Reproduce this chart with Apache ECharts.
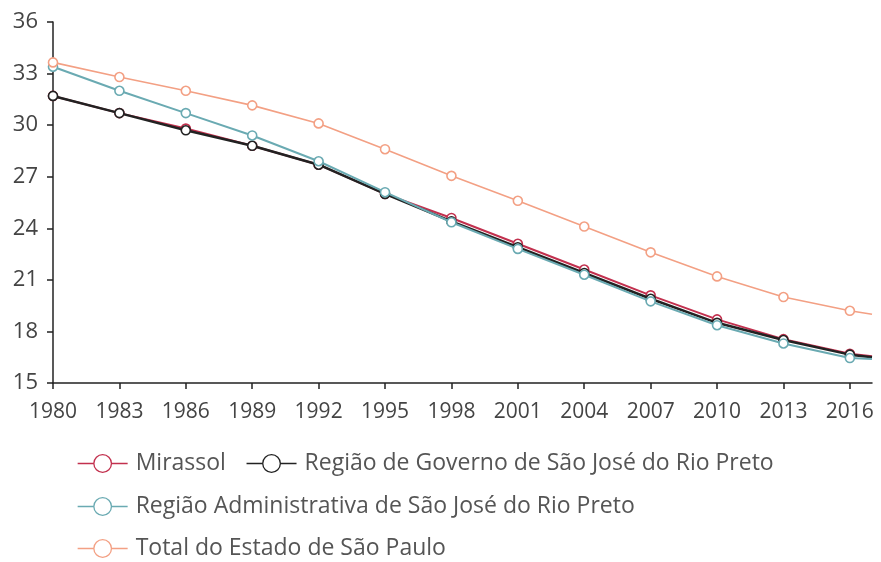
<!DOCTYPE html>
<html>
<head>
<meta charset="utf-8">
<script src="https://cdn.jsdelivr.net/npm/echarts@6/dist/echarts.min.js"></script>
<style>html,body{margin:0;padding:0;background:#fff}#c{width:881px;height:562px}</style>
</head>
<body>
<div id="c"></div>
<script>
const years = [1980, 1983, 1986, 1989, 1992, 1995, 1998, 2001, 2004, 2007, 2010, 2013, 2016, 2017];
const xTickLabels = [1980, 1983, 1986, 1989, 1992, 1995, 1998, 2001, 2004, 2007, 2010, 2013, 2016];
const yTickLabels = [15, 18, 21, 24, 27, 30, 33, 36];
const seriesNames = ['Mirassol', 'Região de Governo de São José do Rio Preto', 'Região Administrativa de São José do Rio Preto', 'Total do Estado de São Paulo'];
const mirassol = [31.7, 30.7, 29.8, 28.8, 27.7, 26.0, 24.6, 23.1, 21.6, 20.1, 18.7, 17.55, 16.7, 16.55];
const regiaoGoverno = [31.7, 30.7, 29.7, 28.8, 27.7, 26.0, 24.4, 22.9, 21.4, 19.9, 18.5, 17.5, 16.65, 16.5];
const regiaoAdministrativa = [33.4, 32.0, 30.7, 29.4, 27.9, 26.1, 24.35, 22.8, 21.3, 19.75, 18.36, 17.3, 16.45, 16.4];
const totalEstado = [33.65, 32.8, 32.0, 31.15, 30.1, 28.6, 27.05, 25.6, 24.1, 22.6, 21.2, 20.0, 19.2, 19.0];
const colors = ['#c2304e', '#222222', '#6aaab2', '#f3a084'];
const widths = [2, 2.5, 2, 1.6];
const allData = [mirassol, regiaoGoverno, regiaoAdministrativa, totalEstado];

const chart = echarts.init(document.getElementById('c'));
const FONT = '"Open Sans", sans-serif';
const series = allData.map((vals, i) => ({
  name: seriesNames[i],
  type: 'line',
  data: vals.map((v, j) => ({
    value: [years[j], v],
    symbol: years[j] === 2017 ? 'none' : 'circle'
  })),
  symbol: 'circle',
  symbolSize: 9,
  showAllSymbol: true,
  color: colors[i],
  lineStyle: { color: colors[i], width: widths[i] },
  itemStyle: { color: '#fff', borderColor: colors[i], borderWidth: 1.6 },
  emphasis: { disabled: true },
  z: 2 + i
}));
const legendBase = {
  left: 72, orient: 'horizontal', itemWidth: 50, itemHeight: 22, itemGap: 20,
  textStyle: { fontFamily: FONT, fontSize: 23, color: '#555', padding: [0, 0, 0, 3] },
  itemStyle: { color: '#fff', borderWidth: 1.3 },
  lineStyle: { width: 1.3 }
};
const option = {
  animation: false,
  backgroundColor: '#fff',
  grid: { left: 53, right: 9, top: 22, bottom: 179, containLabel: false },
  xAxis: {
    type: 'value', min: 1980, max: 2017, interval: 3,
    splitLine: { show: false },
    axisLine: { lineStyle: { color: '#222', width: 1.5 } },
    axisTick: { show: true, length: 6, lineStyle: { color: '#222', width: 1.5 }, customValues: xTickLabels },
    axisLabel: { customValues: xTickLabels, fontFamily: FONT, fontSize: 21, color: '#444', margin: 19, formatter: v => String(v) }
  },
  yAxis: {
    type: 'value', min: 15, max: 36, interval: 3,
    splitLine: { show: false },
    axisLine: { show: true, lineStyle: { color: '#222', width: 1.5 } },
    axisTick: { show: true, length: 6, lineStyle: { color: '#222', width: 1.5 }, customValues: yTickLabels },
    axisLabel: { customValues: yTickLabels, fontFamily: FONT, fontSize: 22, color: '#444', margin: 15 }
  },
  legend: [
    Object.assign({}, legendBase, { top: 447, data: [seriesNames[0], seriesNames[1]] }),
    Object.assign({}, legendBase, { top: 490, data: [seriesNames[2]] }),
    Object.assign({}, legendBase, { top: 532, data: [seriesNames[3]] })
  ],
  series: series
};
chart.setOption(option);
</script>
</body>
</html>
